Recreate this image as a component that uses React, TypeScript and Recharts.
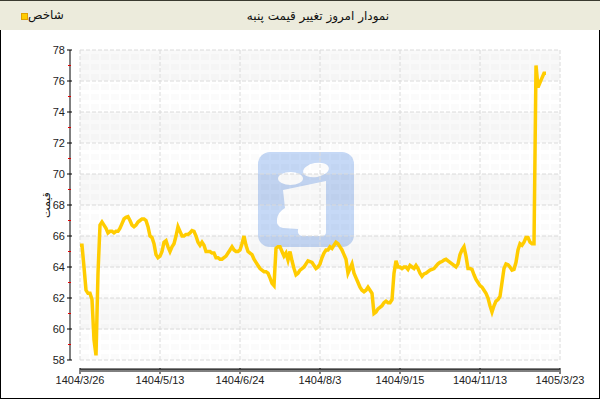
import React from 'react';
import { LineChart, Line, XAxis, YAxis, ReferenceLine, ReferenceArea } from 'recharts';

// one value per trading day
const prices = [
  65.4, 65.4, 64.0, 62.5, 62.3, 62.3, 61.9, 59.3, 58.3, 63.6,
  66.7, 66.9, 66.7, 66.5, 66.2, 66.3, 66.3, 66.2, 66.3, 66.3,
  66.5, 66.8, 67.1, 67.2, 67.25, 67.0, 66.7, 66.6, 66.7, 66.9,
  67.0, 67.1, 67.1, 67.0, 66.6, 66.0, 65.9, 65.5, 64.8, 64.6,
  64.7, 65.0, 65.6, 65.7, 65.3, 65.0, 65.3, 65.5, 66.0, 66.6,
  66.3, 66.0, 66.0, 66.1, 66.1, 66.2, 66.35, 66.3, 66.0, 65.6,
  65.4, 65.6, 65.4, 65.0, 65.0, 65.0, 64.9, 64.9, 64.6, 64.6,
  64.5, 64.5, 64.6, 64.7, 64.9, 65.1, 65.3, 65.1, 65.0, 65.0,
  65.1, 65.5, 66.0, 65.4, 65.0, 64.9, 64.8, 64.5, 64.3, 64.1,
  63.9, 63.8, 63.7, 63.7, 63.6, 63.3, 62.95, 62.8, 65.2, 65.3,
  65.3, 65.0, 64.7, 64.9, 64.45, 65.0, 64.4, 63.9, 63.5, 63.6,
  63.8, 63.9, 64.0, 64.2, 64.4, 64.35, 64.3, 64.1, 63.9, 64.0,
  64.2, 64.6, 64.9, 65.1, 65.1, 65.3, 65.2, 65.4, 65.6, 65.5,
  65.3, 65.1, 64.8, 64.5, 63.6, 63.9, 64.2, 63.6, 63.3, 63.0,
  62.7, 62.5, 62.4, 62.5, 62.7, 62.5, 62.3, 61.0, 61.1, 61.3,
  61.4, 61.5, 61.7, 61.8, 61.7, 61.7, 61.9, 63.6, 64.4, 64.0,
  64.0, 63.9, 64.0, 64.0, 63.85, 64.1, 64.0, 63.9, 64.1, 63.9,
  63.6, 63.4, 63.55, 63.6, 63.7, 63.8, 63.85, 63.9, 64.05, 64.2,
  64.3, 64.35, 64.45, 64.5, 64.4, 64.3, 64.2, 64.1, 64.0, 64.2,
  64.8, 65.1, 65.3, 64.7, 63.9, 63.9, 63.85, 63.5, 63.2, 63.0,
  62.8, 62.7, 62.5, 62.3, 62.0, 61.5, 61.1, 61.5, 61.8, 61.9,
  62.1, 63.0, 63.9, 64.2, 64.15, 64.0, 63.8, 63.85, 64.3, 65.1,
  65.5, 65.4, 65.6, 65.9, 65.9, 65.6, 65.5, 65.5, 77.0, 75.6,
  75.9, 76.2, 76.5, 76.5,
];

const xLabels = ['1404/3/26', '1404/5/13', '1404/6/24', '1404/8/3', '1404/9/15', '1404/11/13', '1405/3/23'];
const xStep = 40;
const xEnd = 240;
const yMajor = [58, 60, 62, 64, 66, 68, 70, 72, 74, 76, 78];
const yMinor = [59, 61, 63, 65, 67, 69, 71, 73, 75, 77];
const shadedBands = [[60, 62], [64, 66], [68, 70], [72, 74], [76, 78]];

const rows = prices.map((p, i) => ({ d: i, p }));
const xTicks = Array.from({ length: xEnd + 1 }, (_, i) => i);
const yTicks = [...yMajor, ...yMinor].sort((a, b) => a - b);
const stripeXs = xTicks.filter((i) => i % 5 !== 0);

// axes sit 10px away from the plot, like the original
const yMin = 58 - 9 / 15.5;
const xMin = -5;

const tickFont = { fontFamily: '"Liberation Sans", Arial, sans-serif', fontSize: 11, fill: '#222' };

const XTick = (props: any) => {
  const { x, y, payload } = props;
  const i = payload.value;
  const major = i % xStep === 0;
  return (
    <g>
      <line x1={x} x2={x} y1={major ? y - 1 : y} y2={major ? y + 5 : y + 3} stroke="#000" />
      {major && (
        <text x={x} y={y + 15} textAnchor="middle" {...tickFont}>
          {xLabels[i / xStep]}
        </text>
      )}
    </g>
  );
};

const YTick = (props: any) => {
  const { x, y, payload } = props;
  const v = payload.value;
  if (v % 2 !== 0) {
    return <line x1={x - 2} x2={x + 1} y1={y} y2={y} stroke="#e00000" />;
  }
  return (
    <g>
      <line x1={x - 3} x2={x + 2} y1={y} y2={y} stroke="#000" />
      <text x={x - 5} y={y + 4} textAnchor="end" {...tickFont}>
        {v}
      </text>
    </g>
  );
};

const Logo = () => (
  <svg width={600} height={400} style={{ position: 'absolute', left: 0, top: 0 }}>
    <rect x={258} y={152} width={96} height={95} rx={12} fill="#c6d9f6" />
    <ellipse cx={316} cy={170} rx={13} ry={7} fill="#fff" transform="rotate(-10 316 170)" />
    <ellipse cx={290.5} cy={178.5} rx={12.5} ry={6.5} fill="#fff" />
    <path
      d="M283 190 L326 181 L326 232 Q326 236 322 236 L302 236 Q297 235 298 229 L283 228 Q276 227 277 219 Q278 212 285 208 Z"
      fill="#fff"
    />
  </svg>
);

export default function App() {
  return (
    <div
      style={{
        position: 'relative',
        width: 600,
        height: 400,
        background: '#fff',
        overflow: 'hidden',
        fontFamily: '"DejaVu Sans", sans-serif',
      }}
    >
      <style>{'body{margin:0}'}</style>
      <div
        style={{
          position: 'absolute',
          left: 0,
          top: 0,
          width: 600,
          height: 30,
          boxSizing: 'border-box',
          background: '#ecebdc',
          borderTop: '1px solid #3a3a30',
        }}
      >
        <div
          dir="rtl"
          style={{ position: 'absolute', left: 318, top: 8, transform: 'translateX(-50%)', fontSize: 12, color: '#111', whiteSpace: 'nowrap' }}
        >
          نمودار امروز تغییر قیمت پنبه
        </div>
        <div style={{ position: 'absolute', left: 21, top: 12, width: 5, height: 5, background: '#ffcc00', border: '0.5px solid #e0a000' }} />
        <div dir="rtl" style={{ position: 'absolute', left: 28, top: 7, fontSize: 12, color: '#111', whiteSpace: 'nowrap' }}>
          شاخص
        </div>
      </div>
      <div
        style={{
          position: 'absolute',
          left: 0,
          top: 30,
          width: 600,
          height: 369,
          boxSizing: 'border-box',
          borderLeft: '1px solid #000',
          borderRight: '1px solid #000',
          borderBottom: '1px solid #000',
        }}
      />
      <Logo />
      <div
        dir="rtl"
        style={{
          position: 'absolute',
          left: 46,
          top: 205,
          transform: 'translate(-50%, -50%) rotate(-90deg)',
          fontSize: 11,
          color: '#111',
          whiteSpace: 'nowrap',
        }}
      >
        قیمت
      </div>
      <div style={{ position: 'absolute', left: 0, top: 30 }}>
        <LineChart width={600} height={370} data={rows} margin={{ top: 20, right: 40, bottom: 1, left: 0 }}>
          <XAxis
            type="number"
            dataKey="d"
            domain={[xMin, xEnd]}
            allowDataOverflow
            ticks={xTicks}
            interval={0}
            tick={<XTick />}
            tickSize={0}
            tickMargin={0}
            axisLine={false}
            tickLine={false}
            height={30}
          />
          <YAxis
            type="number"
            domain={[yMin, 78]}
            allowDataOverflow
            ticks={yTicks}
            interval={0}
            tick={<YTick />}
            tickSize={0}
            tickMargin={0}
            axisLine={false}
            tickLine={false}
            width={70}
          />
          {shadedBands.map(([a, b]) => (
            <ReferenceArea key={`band${a}`} x1={0} x2={xEnd} y1={a} y2={b} fill="#000" fillOpacity={0.025} stroke="none" ifOverflow="visible" />
          ))}
          {stripeXs.map((i) => (
            <ReferenceLine
              key={`s${i}`}
              segment={[{ x: i, y: 58 }, { x: i, y: 78 }]}
              stroke="#000"
              strokeOpacity={0.035}
              strokeDasharray="6 4"
              ifOverflow="visible"
            />
          ))}
          {yMajor.map((v) => (
            <ReferenceLine
              key={`h${v}`}
              segment={[{ x: 0, y: v }, { x: xEnd, y: v }]}
              stroke="#dadada"
              strokeDasharray="4 2"
              ifOverflow="visible"
            />
          ))}
          {xLabels.map((_, k) => (
            <ReferenceLine
              key={`v${k}`}
              segment={[{ x: k * xStep, y: 58 }, { x: k * xStep, y: 78 }]}
              stroke="#dadada"
              strokeDasharray="4 2"
              ifOverflow="visible"
            />
          ))}
          <ReferenceLine segment={[{ x: xMin, y: 58 }, { x: xMin, y: 78 }]} stroke="#000" ifOverflow="visible" />
          <ReferenceLine segment={[{ x: 0, y: yMin }, { x: xEnd, y: yMin }]} stroke="#000" ifOverflow="visible" />
          <Line
            type="linear"
            dataKey="p"
            stroke="#ffcc00"
            strokeWidth={3.5}
            dot={false}
            activeDot={false}
            isAnimationActive={false}
          />
        </LineChart>
      </div>
    </div>
  );
}
